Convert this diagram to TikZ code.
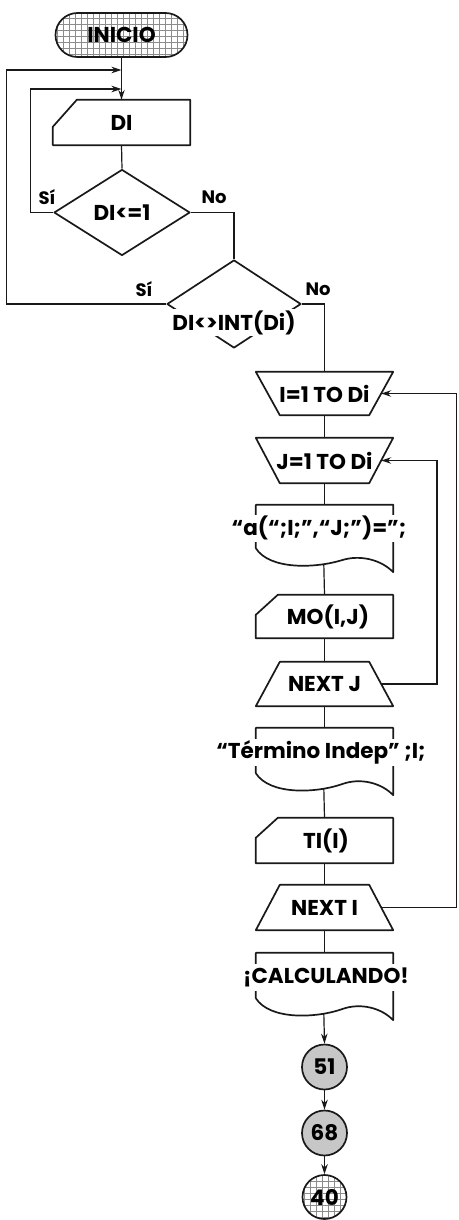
\documentclass[tikz,border=0pt]{standalone}
\usepackage{fontspec}
\setmainfont{Poppins}
\usetikzlibrary{shapes.geometric,shapes.misc,calc,arrows.meta}
\tikzset{
  ol/.style={line width=1.7pt, line join=round, draw=black!90},
  conn/.style={line width=1.2pt, draw=black!90},
  arr/.style={conn, -{Stealth[length=10pt,width=6.5pt]}},
  txt/.style={font=\bfseries\fontsize{21.5}{24}\selectfont, inner sep=1pt},
  lab/.style={font=\bfseries\fontsize{18}{20}\selectfont, inner sep=0pt},
  boxnode/.style={draw=none, inner sep=0pt, minimum width=137pt, minimum height=#1},
  coverfill/.style={fill=white, inner sep=1pt, minimum height=27pt},
  gridfill/.style={path picture={\draw[black!45, line width=0.5pt, step=6pt]
      ([shift={(-3pt,-3pt)}]path picture bounding box.south west) grid
      ([shift={(3pt,3pt)}]path picture bounding box.north east);}},
}
\begin{document}
\begin{tikzpicture}[x=1pt,y=-1pt]
\useasboundingbox (0,0) rectangle (458,1220);

% start terminal
\node[rounded rectangle, ol, gridfill, minimum width=134pt, minimum height=44pt,
      txt] (start) at (121.5,35) {INICIO};

% DI input box
\node[boxnode=45pt] (di) at (121.5,122.5) {};
\draw[ol] ($(di.north west)+(24,0)$) -- (di.north east) -- (di.south east)
  -- (di.south west) -- ($(di.north west)+(0,27)$) -- cycle;
\node[txt] (dit) at (di.center) {DI};

% diamond 1
\node[diamond, ol, inner sep=0pt, minimum width=136pt, minimum height=86pt, txt]
  (d1) at (122,212.5) {DI<=1};
\node[lab] (s1) at (47,197) {Sí};
\node[lab] (n1) at (214,197) {No};

% diamond 2
\node[diamond, ol, inner sep=0pt, minimum width=134pt, minimum height=88pt]
  (d2) at (234,304) {};
\node[txt, coverfill] (d2t) at (234,322.5) {DI<>INT(Di)};
\node[lab] (s2) at (144,289) {Sí};
\node[lab] (n2) at (318,289) {No};

% loop I
\node[boxnode=43pt] (li) at (324.5,393.5) {};
\draw[ol] (li.north west) -- (li.north east) -- ($(li.south east)+(-24,0)$)
  -- ($(li.south west)+(24,0)$) -- cycle;
\node[txt] (lit) at (li.center) {I=1 TO Di};

% loop J
\node[boxnode=45pt] (lj) at (324.5,460.5) {};
\draw[ol] (lj.north west) -- (lj.north east) -- ($(lj.south east)+(-24,0)$)
  -- ($(lj.south west)+(24,0)$) -- cycle;
\node[txt] (ljt) at (lj.center) {J=1 TO Di};

% document 1
\node[boxnode=43pt] (o1) at (324.5,526.5) {};
\draw[ol] (o1.south west) -- (o1.north west) -- (o1.north east) -- ($(o1.south east)+(0,24)$)
  .. controls ($(o1.south west)+(126,12)$) and ($(o1.south west)+(105,6)$) .. ($(o1.south west)+(86,12)$)
  .. controls ($(o1.south west)+(60,20)$) and ($(o1.south west)+(14,22)$) .. (o1.south west);
\node[txt, coverfill] (o1t) at (319,528) {“a(“;I;”,“J;”)=”;};
\coordinate (w1) at ($(o1.south west)+(68,16)$);

% MO input
\node[boxnode=43pt] (mo) at (324.5,616.5) {};
\draw[ol] ($(mo.north west)+(22,0)$) -- (mo.north east) -- (mo.south east)
  -- (mo.south west) -- ($(mo.north west)+(0,20)$) -- cycle;
\node[txt] (mot) at (328,617) {MO(I,J)};

% NEXT J
\node[boxnode=44pt] (nj) at (324.5,684) {};
\draw[ol] ($(nj.north west)+(24,0)$) -- ($(nj.north east)+(-24,0)$) -- (nj.south east)
  -- (nj.south west) -- cycle;
\node[txt] (njt) at (nj.center) {NEXT J};

% document 2
\node[boxnode=45pt] (o2) at (324.5,750.5) {};
\draw[ol] (o2.south west) -- (o2.north west) -- (o2.north east) -- ($(o2.south east)+(0,22)$)
  .. controls ($(o2.south west)+(126,10)$) and ($(o2.south west)+(105,4)$) .. ($(o2.south west)+(86,11)$)
  .. controls ($(o2.south west)+(60,20)$) and ($(o2.south west)+(14,22)$) .. (o2.south west);
\node[txt, coverfill] (o2t) at (321,752.5) {“Término Indep” ;I;};
\coordinate (w2) at ($(o2.south west)+(68,15)$);

% TI input
\node[boxnode=45pt] (ti) at (324.5,840.5) {};
\draw[ol] ($(ti.north west)+(22,0)$) -- (ti.north east) -- (ti.south east)
  -- (ti.south west) -- ($(ti.north west)+(0,20)$) -- cycle;
\node[txt] (tit) at (326,841) {TI(I)};

% NEXT I
\node[boxnode=45pt] (ni) at (324.5,907.5) {};
\draw[ol] ($(ni.north west)+(24,0)$) -- ($(ni.north east)+(-24,0)$) -- (ni.south east)
  -- (ni.south west) -- cycle;
\node[txt] (nit) at (ni.center) {NEXT I};

% document 3
\node[boxnode=45pt] (o3) at (324.5,975.5) {};
\draw[ol] (o3.south west) -- (o3.north west) -- (o3.north east) -- ($(o3.south east)+(0,22)$)
  .. controls ($(o3.south west)+(126,10)$) and ($(o3.south west)+(105,4)$) .. ($(o3.south west)+(86,11)$)
  .. controls ($(o3.south west)+(60,20)$) and ($(o3.south west)+(14,22)$) .. (o3.south west);
\node[txt, coverfill] (o3t) at (326,977.5) {¡CALCULANDO!};
\coordinate (w3) at ($(o3.south west)+(68,15)$);

% connectors circles
\node[circle, ol, fill=black!22, minimum size=45pt, inner sep=0pt, txt] (c51) at (324.5,1067) {51};
\node[circle, ol, fill=black!22, minimum size=45pt, inner sep=0pt, txt] (c68) at (324.5,1133) {68};
\node[circle, ol, gridfill, minimum size=44pt, inner sep=0pt, txt] (c40) at (324.5,1197) {40};

% main line
\coordinate (m2) at (121.5,70);
\coordinate (m1) at (121.5,89);
\draw[arr] (start.south) -- (di.north);
\draw[conn] (di.south) -- (d1.north);
\draw[arr] (d1.west) -- ++(-23,0) |- (m1);
\draw[arr] (d2.west) -- ++(-160,0) |- (m2);
\draw[conn] (d1.east) -| (d2.north);
\draw[conn] (d2.east) -| (li.north);
\draw[conn] (li.south) -- (lj.north);
\draw[conn] (lj.south) -- (o1.north);
\draw[conn] (w1) -- (mo.north);
\draw[conn] (mo.south) -- (nj.north);
\draw[conn] (nj.south) -- (o2.north);
\draw[conn] (w2) -- (ti.north);
\draw[conn] (ti.south) -- (ni.north);
\draw[conn] (ni.south) -- (o3.north);
\draw[arr] (w3) -- (c51.north);
\draw[arr] (c51.south) -- (c68.north);
\draw[arr] (c68.south) -- (c40.north);

% loops
\coordinate (njr) at ($(nj.east)+(-12,0)$);
\coordinate (ljr) at ($(lj.east)+(-12,0)$);
\coordinate (nir) at ($(ni.east)+(-12,0)$);
\coordinate (lir) at ($(li.east)+(-12,0)$);
\draw[arr] (njr) -- (437,684) |- (ljr);
\draw[arr] (nir) -- (456.5,907.5) |- (lir);
\end{tikzpicture}
\end{document}
